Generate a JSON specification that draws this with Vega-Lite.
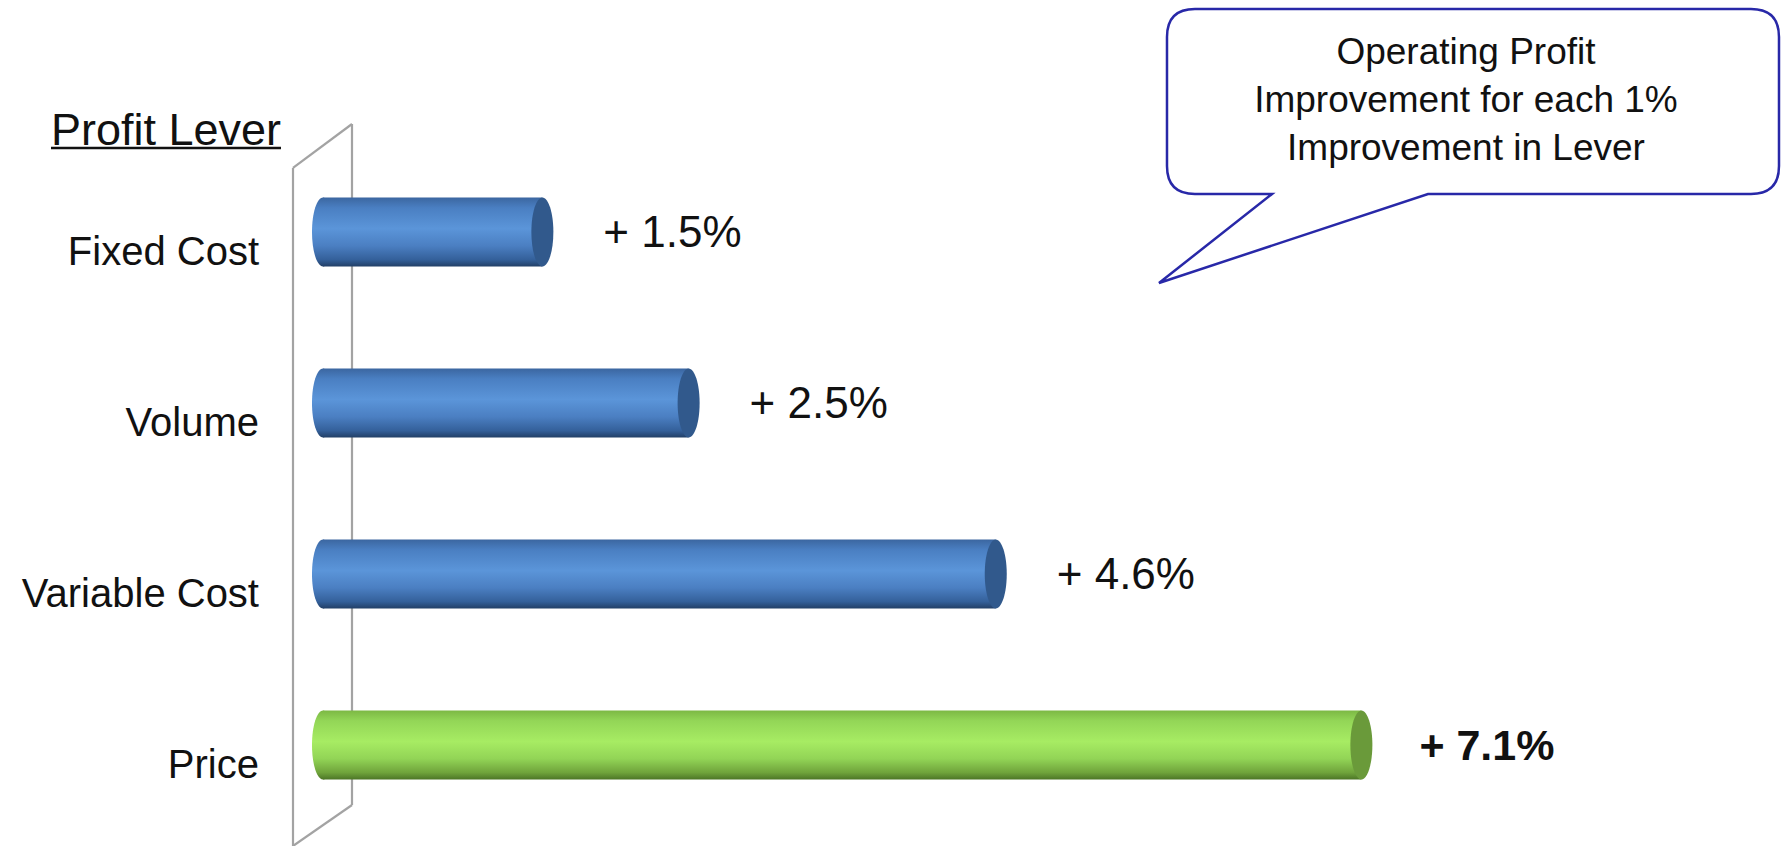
{
  "$schema": "https://vega.github.io/schema/vega-lite/v6.json",
  "width": 1781,
  "height": 846,
  "autosize": "none",
  "padding": 0,
  "background": "white",
  "config": {"view": {"stroke": null}, "font": "Liberation Sans"},
  "datasets": {
    "levers": [
      {"lever": "Fixed Cost", "value": 1.5, "label": "+ 1.5%"},
      {"lever": "Volume", "value": 2.5, "label": "+ 2.5%"},
      {"lever": "Variable Cost", "value": 4.6, "label": "+ 4.6%"},
      {"lever": "Price", "value": 7.1, "label": "+ 7.1%"}
    ],
    "plane": [
      {"x": -0.2051, "u": 3.63, "x2": -0.2051, "u2": -0.3743},
      {"x": -0.2051, "u": -0.3743, "x2": 0.1983, "u2": -0.6316},
      {"x": 0.1983, "u": -0.6316, "x2": 0.1983, "u2": 3.3509},
      {"x": 0.1983, "u": 3.3509, "x2": -0.2051, "u2": 3.5906}
    ],
    "title": [{"x": -1.8598, "u": -0.5906, "x2": -0.2872, "u2": -0.4912, "text": "Profit Lever"}],
    "callout": [{"x": 7.8632, "u": -0.7632, "tx": 7.815, "tu": -1.0468, "text": "Operating Profit\nImprovement for each 1%\nImprovement in Lever"}]
  },
  "resolve": {"scale": {"y": "independent"}},
  "layer": [
    {
      "data": {"name": "plane"},
      "mark": {"type": "rule", "stroke": "#a3a3a3", "strokeWidth": 2.2},
      "encoding": {
        "x": {"field": "x", "type": "quantitative", "scale": {"domain": [-2.2085, 9.9692], "nice": false, "zero": false}, "axis": null},
        "x2": {"field": "x2"},
        "y": {"field": "u", "type": "quantitative", "scale": {"domain": [-1.3567, 3.5906], "range": [0, 846], "nice": false, "zero": false}, "axis": null},
        "y2": {"field": "u2"}
      }
    },
    {
      "data": {"name": "levers"},
      "encoding": {
        "y": {
          "field": "lever", "type": "nominal", "sort": null, "axis": null,
          "scale": {"type": "band", "domain": ["Fixed Cost", "Volume", "Variable Cost", "Price"], "range": [146.5, 830.5], "paddingInner": 0.596, "paddingOuter": 0.298}
        }
      },
      "layer": [
        {
          "transform": [{"filter": "datum.lever !== 'Price'"}],
          "mark": {"type": "point", "filled": true, "opacity": 1, "strokeWidth": 0, "size": 4761,
            "shape": "M0,-1C0.176,-1 0.319,-0.552 0.319,0C0.319,0.552 0.176,1 0,1C-0.176,1 -0.319,0.552 -0.319,0C-0.319,-0.552 -0.176,-1 0,-1Z",
            "fill": {"gradient": "linear", "x1": 0, "y1": 0, "x2": 0, "y2": 1, "stops": [{"offset": 0, "color": "#3b66a0"}, {"offset": 0.15, "color": "#4a7fc2"}, {"offset": 0.45, "color": "#5b95d9"}, {"offset": 0.7, "color": "#4b7fc2"}, {"offset": 0.9, "color": "#34609a"}, {"offset": 1, "color": "#223f66"}]}},
          "encoding": {"x": {"datum": 0, "type": "quantitative", "scale": {"domain": [-2.2085, 9.9692], "nice": false, "zero": false}, "axis": null}}
        },
        {
          "transform": [{"filter": "datum.lever !== 'Price'"}],
          "mark": {"type": "bar",
            "fill": {"gradient": "linear", "x1": 0, "y1": 0, "x2": 0, "y2": 1, "stops": [{"offset": 0, "color": "#3b66a0"}, {"offset": 0.15, "color": "#4a7fc2"}, {"offset": 0.45, "color": "#5b95d9"}, {"offset": 0.7, "color": "#4b7fc2"}, {"offset": 0.9, "color": "#34609a"}, {"offset": 1, "color": "#223f66"}]}},
          "encoding": {
            "x": {"field": "value", "type": "quantitative", "scale": {"domain": [-2.2085, 9.9692], "nice": false, "zero": false}, "axis": null},
            "x2": {"datum": 0}
          }
        },
        {
          "transform": [{"filter": "datum.lever !== 'Price'"}],
          "mark": {"type": "point", "filled": true, "opacity": 1, "strokeWidth": 0, "size": 4761, "fill": "#31598c",
            "shape": "M0,-1C0.176,-1 0.319,-0.552 0.319,0C0.319,0.552 0.176,1 0,1C-0.176,1 -0.319,0.552 -0.319,0C-0.319,-0.552 -0.176,-1 0,-1Z"},
          "encoding": {"x": {"field": "value", "type": "quantitative", "scale": {"domain": [-2.2085, 9.9692], "nice": false, "zero": false}, "axis": null}}
        },
        {
          "transform": [{"filter": "datum.lever === 'Price'"}],
          "mark": {"type": "point", "filled": true, "opacity": 1, "strokeWidth": 0, "size": 4761,
            "shape": "M0,-1C0.176,-1 0.319,-0.552 0.319,0C0.319,0.552 0.176,1 0,1C-0.176,1 -0.319,0.552 -0.319,0C-0.319,-0.552 -0.176,-1 0,-1Z",
            "fill": {"gradient": "linear", "x1": 0, "y1": 0, "x2": 0, "y2": 1, "stops": [{"offset": 0, "color": "#7cb844"}, {"offset": 0.15, "color": "#93d657"}, {"offset": 0.45, "color": "#a7ec63"}, {"offset": 0.7, "color": "#92d456"}, {"offset": 0.9, "color": "#6fa33b"}, {"offset": 1, "color": "#4c7526"}]}},
          "encoding": {"x": {"datum": 0, "type": "quantitative", "scale": {"domain": [-2.2085, 9.9692], "nice": false, "zero": false}, "axis": null}}
        },
        {
          "transform": [{"filter": "datum.lever === 'Price'"}],
          "mark": {"type": "bar",
            "fill": {"gradient": "linear", "x1": 0, "y1": 0, "x2": 0, "y2": 1, "stops": [{"offset": 0, "color": "#7cb844"}, {"offset": 0.15, "color": "#93d657"}, {"offset": 0.45, "color": "#a7ec63"}, {"offset": 0.7, "color": "#92d456"}, {"offset": 0.9, "color": "#6fa33b"}, {"offset": 1, "color": "#4c7526"}]}},
          "encoding": {
            "x": {"field": "value", "type": "quantitative", "scale": {"domain": [-2.2085, 9.9692], "nice": false, "zero": false}, "axis": null},
            "x2": {"datum": 0}
          }
        },
        {
          "transform": [{"filter": "datum.lever === 'Price'"}],
          "mark": {"type": "point", "filled": true, "opacity": 1, "strokeWidth": 0, "size": 4761, "fill": "#6a9a3a",
            "shape": "M0,-1C0.176,-1 0.319,-0.552 0.319,0C0.319,0.552 0.176,1 0,1C-0.176,1 -0.319,0.552 -0.319,0C-0.319,-0.552 -0.176,-1 0,-1Z"},
          "encoding": {"x": {"field": "value", "type": "quantitative", "scale": {"domain": [-2.2085, 9.9692], "nice": false, "zero": false}, "axis": null}}
        },
        {
          "mark": {"type": "text", "align": "right", "baseline": "middle", "dy": 21, "fontSize": 40, "color": "#111111"},
          "encoding": {
            "x": {"datum": -0.4376, "type": "quantitative", "scale": {"domain": [-2.2085, 9.9692], "nice": false, "zero": false}, "axis": null},
            "text": {"field": "lever"}
          }
        },
        {
          "transform": [{"filter": "datum.lever !== 'Price'"}],
          "mark": {"type": "text", "align": "left", "baseline": "middle", "dx": 61, "dy": 2, "fontSize": 44, "color": "#111111"},
          "encoding": {
            "x": {"field": "value", "type": "quantitative", "scale": {"domain": [-2.2085, 9.9692], "nice": false, "zero": false}, "axis": null},
            "text": {"field": "label"}
          }
        },
        {
          "transform": [{"filter": "datum.lever === 'Price'"}],
          "mark": {"type": "text", "align": "left", "baseline": "middle", "dx": 58, "dy": 2, "fontSize": 43, "fontWeight": "bold", "color": "#111111"},
          "encoding": {
            "x": {"field": "value", "type": "quantitative", "scale": {"domain": [-2.2085, 9.9692], "nice": false, "zero": false}, "axis": null},
            "text": {"field": "label"}
          }
        }
      ]
    },
    {
      "layer": [
        {
          "data": {"name": "title"},
          "mark": {"type": "text", "align": "left", "baseline": "middle", "fontSize": 45, "color": "#111111"},
          "encoding": {
            "x": {"field": "x", "type": "quantitative", "scale": {"domain": [-2.2085, 9.9692], "nice": false, "zero": false}, "axis": null},
            "y": {"field": "u", "type": "quantitative", "scale": {"domain": [-1.3567, 3.5906], "range": [0, 846], "nice": false, "zero": false}, "axis": null},
            "text": {"field": "text"}
          }
        },
        {
          "data": {"name": "title"},
          "mark": {"type": "rule", "stroke": "#111111", "strokeWidth": 2.5},
          "encoding": {
            "x": {"field": "x", "type": "quantitative", "scale": {"domain": [-2.2085, 9.9692], "nice": false, "zero": false}, "axis": null},
            "x2": {"field": "x2"},
            "y": {"field": "u2", "type": "quantitative", "scale": {"domain": [-1.3567, 3.5906], "range": [0, 846], "nice": false, "zero": false}, "axis": null}
          }
        },
        {
          "data": {"name": "callout"},
          "mark": {"type": "point", "filled": false, "opacity": 1, "fill": "white", "fillOpacity": 1, "stroke": "#2828a8", "strokeWidth": 2.5, "size": 4,
            "shape": "M-278,-92.5L278,-92.5Q306,-92.5 306,-64.5L306,64.5Q306,92.5 278,92.5L-45,92.5L-314,181.5L-201,92.5L-278,92.5Q-306,92.5 -306,64.5L-306,-64.5Q-306,-92.5 -278,-92.5Z"},
          "encoding": {
            "x": {"field": "x", "type": "quantitative", "scale": {"domain": [-2.2085, 9.9692], "nice": false, "zero": false}, "axis": null},
            "y": {"field": "u", "type": "quantitative", "scale": {"domain": [-1.3567, 3.5906], "range": [0, 846], "nice": false, "zero": false}, "axis": null}
          }
        },
        {
          "data": {"name": "callout"},
          "mark": {"type": "text", "align": "center", "baseline": "middle", "lineBreak": "\n", "lineHeight": 48, "fontSize": 37, "color": "#111111"},
          "encoding": {
            "x": {"field": "tx", "type": "quantitative", "scale": {"domain": [-2.2085, 9.9692], "nice": false, "zero": false}, "axis": null},
            "y": {"field": "tu", "type": "quantitative", "scale": {"domain": [-1.3567, 3.5906], "range": [0, 846], "nice": false, "zero": false}, "axis": null},
            "text": {"field": "text"}
          }
        }
      ]
    }
  ]
}
